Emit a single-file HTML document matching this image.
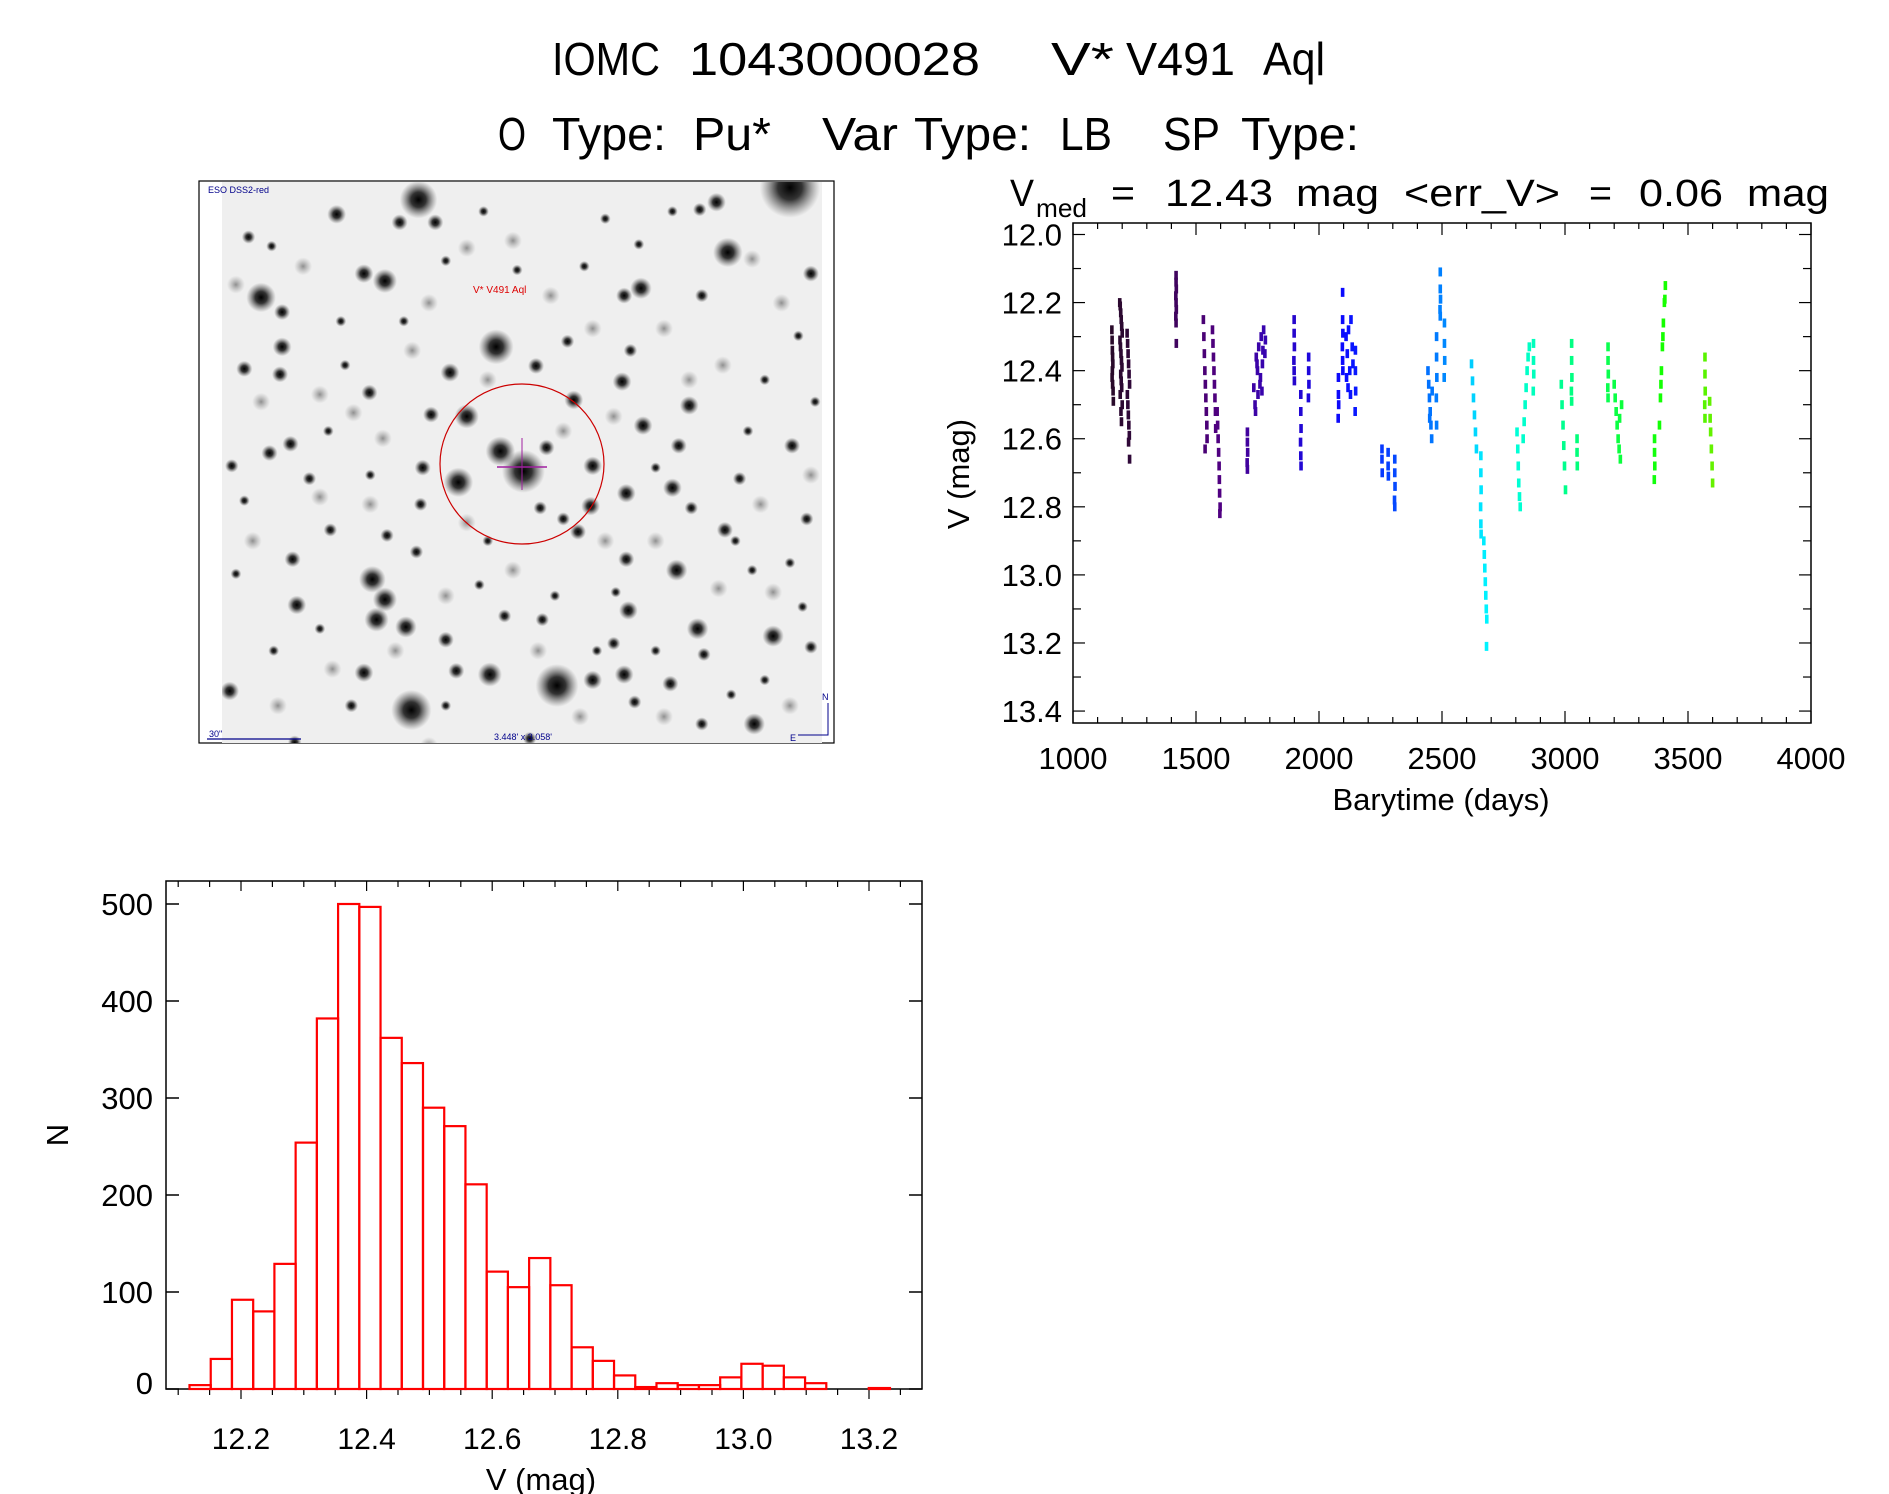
<!DOCTYPE html>
<html><head><meta charset="utf-8"><style>
html,body{margin:0;padding:0;background:#fff;}
svg{display:block;font-family:"Liberation Sans",sans-serif;}
</style></head><body>
<svg id="root" width="1889" height="1494" viewBox="0 0 1889 1494" xmlns="http://www.w3.org/2000/svg">
<defs>
<radialGradient id="starg"><stop offset="0" stop-color="#000" stop-opacity="1"/><stop offset="0.4" stop-color="#111" stop-opacity="0.85"/><stop offset="1" stop-color="#555" stop-opacity="0"/></radialGradient>
<radialGradient id="faintg"><stop offset="0" stop-color="#777" stop-opacity="0.8"/><stop offset="1" stop-color="#999" stop-opacity="0"/></radialGradient>
<clipPath id="imgclip"><rect x="222" y="182" width="600" height="561"/></clipPath>
</defs>
<g font-size="46">
<text x="552" y="75" textLength="108" lengthAdjust="spacingAndGlyphs">IOMC</text>
<text x="689" y="75" textLength="291" lengthAdjust="spacingAndGlyphs">1043000028</text>
<text x="1051" y="75" textLength="63" lengthAdjust="spacingAndGlyphs">V*</text>
<text x="1126" y="75" textLength="109" lengthAdjust="spacingAndGlyphs">V491</text>
<text x="1263" y="75" textLength="62" lengthAdjust="spacingAndGlyphs">Aql</text>
</g>
<g font-size="46">
<text x="498" y="150" textLength="28" lengthAdjust="spacingAndGlyphs">O</text>
<text x="552" y="150" textLength="114" lengthAdjust="spacingAndGlyphs">Type:</text>
<text x="693" y="150" textLength="78" lengthAdjust="spacingAndGlyphs">Pu*</text>
<text x="822" y="150" textLength="76" lengthAdjust="spacingAndGlyphs">Var</text>
<text x="914" y="150" textLength="117" lengthAdjust="spacingAndGlyphs">Type:</text>
<text x="1060" y="150" textLength="52" lengthAdjust="spacingAndGlyphs">LB</text>
<text x="1163" y="150" textLength="57" lengthAdjust="spacingAndGlyphs">SP</text>
<text x="1241" y="150" textLength="118" lengthAdjust="spacingAndGlyphs">Type:</text>
</g>

<g>
<rect x="199" y="181" width="635" height="562" fill="#fff" stroke="#000" stroke-width="1.2"/>
<rect x="222" y="182" width="600" height="561" fill="#efefef"/>
<g id="stars" clip-path="url(#imgclip)"></g>
<ellipse cx="522" cy="464" rx="82" ry="80" fill="none" stroke="#c00" stroke-width="1.2"/>
<line x1="497" y1="467" x2="547" y2="467" stroke="#a020a0" stroke-width="1.5"/>
<line x1="522" y1="438" x2="522" y2="490" stroke="#a020a0" stroke-width="1"/>
<text x="208" y="193" font-size="9" fill="#00008b">ESO DSS2-red</text>
<text x="473" y="293" font-size="10" fill="#d00">V* V491 Aql</text>
<text x="209" y="737" font-size="9" fill="#00008b">30"</text>
<line x1="207" y1="739" x2="301" y2="739" stroke="#00008b" stroke-width="1.2"/>
<text x="523" y="740" font-size="9" fill="#00008b" text-anchor="middle">3.448' x 3.058'</text>
<text x="822" y="700" font-size="9" fill="#00008b">N</text>
<text x="790" y="741" font-size="9" fill="#00008b">E</text>
<polyline points="828,703 828,735 798,735" fill="none" stroke="#00008b" stroke-width="1"/>
</g>

<g font-size="38">
<text x="1010" y="206" textLength="24" lengthAdjust="spacingAndGlyphs">V</text>
<text x="1036" y="217" font-size="26" textLength="51" lengthAdjust="spacingAndGlyphs">med</text>
<text x="1111" y="206" textLength="24" lengthAdjust="spacingAndGlyphs">=</text>
<text x="1165" y="206" textLength="108" lengthAdjust="spacingAndGlyphs">12.43</text>
<text x="1296" y="206" textLength="83" lengthAdjust="spacingAndGlyphs">mag</text>
<text x="1404" y="206" textLength="156" lengthAdjust="spacingAndGlyphs">&lt;err_V&gt;</text>
<text x="1589" y="206" textLength="23" lengthAdjust="spacingAndGlyphs">=</text>
<text x="1639" y="206" textLength="84" lengthAdjust="spacingAndGlyphs">0.06</text>
<text x="1747" y="206" textLength="82" lengthAdjust="spacingAndGlyphs">mag</text>
</g>
<g id="lc"></g>
<g id="hist"></g>
</svg>
<script>
// ---------- Light curve data ----------
const obsDay = [
1158,1159,1160,1161,1162,1160,1159,1161,1163,1164,
1190,1192,1194,1196,1198,1200,1191,1193,1195,1197,1199,1194,1196,1198,1192,1200,1195,1197,
1220,1222,1224,1226,1228,1230,1221,1223,1225,1227,1229,1226,1230,
1419,1419,1420,1418,1419,1420,1418,1419,1420,
1530,1532,1534,1536,1538,1540,1542,1544,1545,1537,
1567,1569,1571,1573,1575,1577,1579,1580,
1586,1588,1590,1592,1594,1595,1596,1598,1597,
1709,1709,1710,1708,1709,
1735,1740,1745,1750,1755,1760,1765,1770,1775,1780,1742,1752,1762,1772,1782,1748,1768,
1899,1899,1900,1898,1899,1900,
1926,1926,1927,1925,1926,1927,
1958,1958,1959,1957,
2079,2079,2080,2078,
2096,2096,2097,2095,2096,2097,
2110,2115,2120,2125,2130,2135,2118,2128,2138,2112,
2148,2148,2149,2147,
2256,2256,2257,2281,2281,2282,2308,2308,2309,2307,2308,
2443,2446,2449,2452,2455,2458,2460,2450,
2478,2478,2479,2477,2478,
2493,2493,2494,2492,2493,
2510,2510,2511,2509,
2620,2624,2628,2632,2636,2640,
2658,2658,2659,2657,2658,2659,
2670,2672,2674,2676,2678,2680,2682,2681,
2805,2808,2810,2812,2815,2818,
2830,2834,2838,2842,2846,2850,2855,
2872,2872,2873,2871,
2985,2988,2992,2995,2998,3002,
3027,3027,3028,3026,3027,
3049,3049,3050,
3175,3175,3176,3174,3175,
3200,3204,3208,3212,3216,3220,3225,3230,3222,
3364,3364,3365,3363,
3384,3388,3392,3396,3400,3404,3408,3390,3398,3406,
3569,3569,3570,3568,3569,
3588,3590,3592,3595,3598,3600
];
const obsMag = [
12.28,12.31,12.34,12.36,12.38,12.40,12.42,12.44,12.46,12.49,
12.20,12.21,12.23,12.25,12.27,12.29,12.31,12.33,12.35,12.37,12.39,12.41,12.43,12.45,12.47,12.50,12.52,12.55,
12.29,12.32,12.35,12.38,12.41,12.44,12.47,12.50,12.53,12.56,12.59,12.61,12.66,
12.12,12.14,12.16,12.18,12.20,12.22,12.24,12.26,12.32,
12.25,12.30,12.35,12.40,12.44,12.48,12.52,12.56,12.60,12.63,
12.28,12.32,12.36,12.40,12.44,12.48,12.52,12.57,
12.52,12.56,12.60,12.64,12.68,12.72,12.76,12.80,12.82,
12.58,12.61,12.64,12.67,12.69,
12.45,12.50,12.36,12.40,12.33,12.44,12.30,12.38,12.28,12.35,12.52,12.47,12.42,12.34,12.31,12.38,12.46,
12.25,12.29,12.33,12.37,12.40,12.43,
12.47,12.52,12.57,12.61,12.65,12.68,
12.36,12.40,12.44,12.48,
12.42,12.47,12.50,12.54,
12.17,12.25,12.29,12.33,12.37,12.40,
12.30,12.35,12.28,12.40,12.25,12.33,12.45,12.47,12.38,12.42,
12.34,12.40,12.46,12.52,
12.63,12.66,12.70,12.64,12.68,12.71,12.66,12.70,12.74,12.78,12.80,
12.40,12.44,12.48,12.52,12.56,12.60,12.46,12.54,
12.30,12.36,12.42,12.48,12.56,
12.11,12.16,12.19,12.22,12.24,
12.26,12.32,12.37,12.42,
12.38,12.43,12.48,12.53,12.58,12.63,
12.65,12.70,12.75,12.80,12.85,12.88,
12.90,12.94,12.98,13.02,13.06,13.10,13.13,13.21,
12.58,12.63,12.68,12.73,12.77,12.80,
12.60,12.55,12.50,12.45,12.40,12.36,12.33,
12.32,12.37,12.41,12.46,
12.44,12.50,12.56,12.62,12.68,12.75,
12.32,12.37,12.42,12.46,12.49,
12.60,12.64,12.68,
12.33,12.37,12.41,12.45,12.48,
12.44,12.48,12.52,12.56,12.60,12.63,12.66,12.50,12.54,
12.60,12.64,12.68,12.72,
12.56,12.48,12.40,12.33,12.26,12.20,12.15,12.44,12.30,12.19,
12.36,12.41,12.46,12.50,12.54,
12.49,12.54,12.58,12.63,12.68,12.73
];
const lcXTicks = [1000,1500,2000,2500,3000,3500,4000];
const lcYTicks = [12.0,12.2,12.4,12.6,12.8,13.0,13.2,13.4];
const lcYTickLabels = ["12.0","12.2","12.4","12.6","12.8","13.0","13.2","13.4"];

// ---------- Histogram data ----------
const histStart = 12.118;
const histBinWidth = 0.0338;
const histCounts = [4,31,92,80,129,254,382,500,497,362,336,290,271,211,121,105,135,107,43,29,14,2,6,4,4,12,26,24,12,6,0,0,1];
const histXTicks = [12.2,12.4,12.6,12.8,13.0,13.2];
const histXTickLabels = ["12.2","12.4","12.6","12.8","13.0","13.2"];
const histYTicks = [0,100,200,300,400,500];

const NS = "http://www.w3.org/2000/svg";
function mk(tag, attrs, parent){const e=document.createElementNS(NS,tag);for(const k in attrs)e.setAttribute(k,attrs[k]);parent.appendChild(e);return e;}

// ----- Light curve -----
const lc = document.getElementById('lc');
const L = {x0:1073,x1:1811,y0:223,y1:723};
const lx = d => L.x0 + (d-1000)*(L.x1-L.x0)/3000;
const ly = m => 234.5 + (m-12.0)*340.4;
function dayColor(d){
  const stops=[[1150,[40,10,40]],[1600,[80,0,130]],[2100,[10,10,255]],[2500,[0,130,255]],[2700,[0,255,255]],[3000,[0,255,140]],[3400,[20,255,0]],[3620,[110,240,0]]];
  if(d<=stops[0][0]) return 'rgb('+stops[0][1]+')';
  for(let i=1;i<stops.length;i++){ if(d<=stops[i][0]){const a=stops[i-1],b=stops[i];const t=(d-a[0])/(b[0]-a[0]);const c=a[1].map((v,j)=>Math.round(v+(b[1][j]-v)*t));return 'rgb('+c+')';}}
  return 'rgb('+stops[stops.length-1][1]+')';
}
const lcFrame = mk('rect',{x:L.x0,y:L.y0,width:L.x1-L.x0,height:L.y1-L.y0,fill:'none',stroke:'#000','stroke-width':1.5},lc);


for(let d=1000; d<=4000; d+=100){
  const major = (d%500===0); const len = major?12:6; const x=lx(d);
  mk('line',{x1:x,y1:L.y1,x2:x,y2:L.y1-len,stroke:'#000','stroke-width':1.2},lc);
  mk('line',{x1:x,y1:L.y0,x2:x,y2:L.y0+len,stroke:'#000','stroke-width':1.2},lc);
}
lcXTicks.forEach(d=>{const t=mk('text',{x:lx(d),y:769,'font-size':31,'text-anchor':'middle'},lc);t.textContent=String(d);
  
  });
for(let i=0;i<=14;i++){
  const m=12.0+i*0.1; const y=ly(m); const len=(i%2===0)?12:8;
  mk('line',{x1:L.x0,y1:y,x2:L.x0+len,y2:y,stroke:'#000','stroke-width':1.2},lc);
  mk('line',{x1:L.x1,y1:y,x2:L.x1-len,y2:y,stroke:'#000','stroke-width':1.2},lc);
}
lcYTicks.forEach((m,i)=>{const t=mk('text',{x:1062,y:ly(m)+11,'font-size':31,'text-anchor':'end'},lc);t.textContent=lcYTickLabels[i];
  
  });
const lcxt = mk('text',{x:1441,y:810,'font-size':31,'text-anchor':'middle'},lc); lcxt.textContent='Barytime (days)';


const lcyt = mk('text',{x:0,y:0,'font-size':31,'text-anchor':'middle',transform:'translate(969,474) rotate(-90)'},lc); lcyt.textContent='V (mag)';


const pts = mk('g',{},lc);


for(let i=0;i<obsDay.length;i++){
  const c = mk('rect',{x:lx(obsDay[i])-1.8,y:ly(obsMag[i])-4.5,width:3.6,height:9,fill:dayColor(obsDay[i])},pts);
  
  
}

// ----- Histogram -----
const hg = document.getElementById('hist');
const H = {x0:166,x1:922,y0:881,y1:1389};
const hx = v => 241 + (v-12.2)*628;
const hy = n => H.y1 - n*0.970;
const hFrame = mk('rect',{x:H.x0,y:H.y0,width:H.x1-H.x0,height:H.y1-H.y0,fill:'none',stroke:'#000','stroke-width':1.5},hg);


for(let i=0;i<=23;i++){
  const v=12.1+i*0.05; const x=hx(v); const len=(i%4===2)?10:6;
  mk('line',{x1:x,y1:H.y1,x2:x,y2:H.y1+len,stroke:'#000','stroke-width':1.2},hg);
  mk('line',{x1:x,y1:H.y0,x2:x,y2:H.y0+len,stroke:'#000','stroke-width':1.2},hg);
}
histXTicks.forEach((v,i)=>{const t=mk('text',{x:hx(v),y:1449,'font-size':30,'text-anchor':'middle'},hg);t.textContent=histXTickLabels[i];
  
  });
histYTicks.forEach(n=>{const y=hy(n);
  mk('line',{x1:H.x0,y1:y,x2:H.x0+13,y2:y,stroke:'#000','stroke-width':1.5},hg);
  mk('line',{x1:H.x1,y1:y,x2:H.x1-13,y2:y,stroke:'#000','stroke-width':1.5},hg);
  const t=mk('text',{x:153,y:y+11 - (n===0?6:0),'font-size':31,'text-anchor':'end'},hg);t.textContent=String(n);
  
  });
const bars = mk('g',{},hg);


histCounts.forEach((n,i)=>{
  const xa=hx(histStart+i*histBinWidth), xb=hx(histStart+(i+1)*histBinWidth);
  const r=mk('rect',{x:xa,y:hy(n),width:xb-xa,height:H.y1-hy(n),fill:'none',stroke:'#f00','stroke-width':2.2},bars);
  
  
});
const hxt = mk('text',{x:541,y:1490,'font-size':31,'text-anchor':'middle'},hg); hxt.textContent='V (mag)';


const hyt = mk('text',{x:0,y:0,'font-size':31,'text-anchor':'middle',transform:'translate(68,1135) rotate(-90)'},hg); hyt.textContent='N';



// ----- Star field decoration (zoom-coordinate star list) -----
const starList = [[535,68,28],[1420,35,45],[1272,212,22],[720,470,26],[785,810,32],[730,755,22],[630,840,22],[650,660,18],[865,1395,32],[518,1462,30],[160,335,22],[455,290,18],[405,270,14],[210,375,12],[210,470,14],[425,1105,20],[455,1160,18],[435,1215,18],[505,1235,16],[705,1365,18],[610,540,14],[815,522,12],[1020,565,14],[905,615,14],[1070,685,14],[1180,630,14],[1150,1080,16],[1200,1240,16],[1380,1260,16],[1335,1500,16],[1035,1190,14],[1025,1365,14],[950,1380,14],[1135,1390,12],[245,1175,14],[405,1360,14],[85,1410,14],[1140,855,14],[1030,870,14],[950,795,14],[840,745,12],[230,735,12],[180,760,12],[275,830,10],[120,530,12],[205,545,12],[1065,310,16],[1025,330,12],[1245,75,14],[1205,95,10],[340,108,14],[490,130,12],[575,130,12],[130,170,10],[418,595,12],[1470,270,12],[1155,740,12],[1425,740,12],[1460,940,10],[1265,970,12],[1030,1050,12],[1000,1280,10],[880,940,10],[825,910,10],[945,905,14],[915,975,12],[600,1270,12],[235,1050,12],[325,970,10],[460,985,10],[530,1030,10],[90,795,10],[1300,830,10],[1185,910,10],[1215,1310,10],[1050,1440,10],[1470,1290,10],[625,1355,12],[1210,1500,10],[740,1205,10],[830,1215,10],[375,1450,10],[1005,1140,8],[890,455,10],[1040,480,10],[545,800,12],[540,900,10],[240,1550,10],[800,1540,10],[565,655,12],[1210,330,10],[1140,100,8],[1060,190,8],[185,195,8],[600,235,8],[770,260,8],[1440,440,8],[1360,560,8],[1100,800,8],[1290,1000,8],[1420,1060,8],[1330,1080,8],[700,1000,8],[320,700,8],[120,890,8],[300,1240,8],[190,1300,8],[680,1120,8],[860,1150,8],[1100,1300,8],[1280,1420,8],[1360,1380,8],[960,1300,8],[600,1450,8],[1450,1180,8],[100,1090,8],[350,400,8],[500,400,8],[930,250,8],[980,120,8],[690,100,8],[1320,700,8],[1480,620,8],[420,820,8],[360,520,8]];
const faintList = [[260,250],[300,600],[380,650],[450,720],[520,480],[560,350],[650,200],[760,180],[850,330],[950,420],[1120,420],[1260,520],[1400,350],[1350,900],[1250,1130],[1100,1000],[980,1000],[760,1080],[600,1150],[480,1300],[330,1350],[200,1450],[160,620],[100,300],[820,1300],[920,1480],[1120,1480],[1380,1140],[1470,820],[700,560],[880,700],[300,880],[420,900],[650,950],[1180,560],[1330,230],[1000,660],[560,1560],[1420,1450],[140,1000]];
const sg = document.getElementById('stars');
faintList.forEach(s=>{
  const x = 199 + (s[0]-12)/1513*635, y = 181 + (s[1]-17)/1535*562;
  mk('circle',{cx:x,cy:y,r:9,fill:'url(#faintg)'},sg);
});
starList.forEach(s=>{
  const x = 199 + (s[0]-12)/1513*635, y = 181 + (s[1]-17)/1535*562, r = s[2]*0.42;
  mk('circle',{cx:x,cy:y,r:r*1.6,fill:'url(#starg)'},sg);
});
</script>
</body></html>
